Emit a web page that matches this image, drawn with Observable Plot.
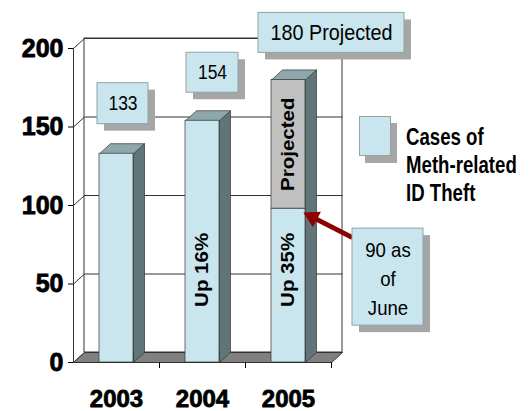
<!DOCTYPE html>
<html>
<head>
<meta charset="utf-8">
<script src="https://cdn.jsdelivr.net/npm/d3@7"></script>
<script src="https://cdn.jsdelivr.net/npm/@observablehq/plot@0.6"></script>
<style>
  html, body { margin: 0; padding: 0; background: #fff; }
  #wrap { position: relative; width: 532px; height: 411px; overflow: hidden; font-family: "Liberation Sans", Arial, Helvetica, sans-serif; }
  #legend { position: absolute; left: 359px; top: 116px; }
  #legend .sw { position: absolute; left: 0; top: 0; width: 32px; height: 40px; background: #C9E6EE; border: 1px solid #8FA3A8; box-sizing: border-box; box-shadow: 6px 7px 0 #A6A6A6; }
  #legend .lt { position: absolute; left: 47px; top: 7px; font-weight: bold; font-size: 23px; line-height: 28px; white-space: pre; color: #000; transform: scaleX(0.81); transform-origin: left top; }
</style>
</head>
<body>
<div id="wrap"></div>
<script>
// ---- data ----
const years = ["2003", "2004", "2005"];
const totals = [133, 154, 180];
const reported = [133, 154, 98];
const notes = ["", "Up 16%", "Up 35%"];
const callouts = ["133", "154", "180 Projected"];
const juneNote = "90 as\nof\nJune";
const projectedLabel = "Projected";
const yTicks = [0, 50, 100, 150, 200];
const legendLabel = "Cases of\nMeth-related\nID Theft";

// ---- layout ----
const W = 532, H = 411, mL = 73, mR = 201, mT = 48, mB = 49;
const kx = (W - mL - mR) / 3, ky = (H - mT - mB) / 200; // px per unit
const DX = 11 / kx, DY = 10 / ky;  // 3D depth
const halfW = 17 / kx;
const FONT = '"Liberation Sans", Arial, Helvetica, sans-serif';
const BLUE = "#C9E6EE", SIDE = "#607579", TOP = "#8EA7AB", GRAY = "#C0C0C0",
      FLOOR = "#808080", SHADOW = "#A6A6A6", EDGE = "#333", BOXEDGE = "#8FA3A8", RED = "#8B0000";

const bars = years.map((y, i) => ({i, c: i + 0.5, year: y, total: totals[i], rep: reported[i], note: notes[i], label: callouts[i]}));

const poly = (id, pts) => [...pts, pts[0]].map(([x, y]) => ({id, x, y}));
const sides = bars.flatMap(d => poly("s" + d.i, [[d.c + halfW, 0], [d.c + halfW + DX, DY], [d.c + halfW + DX, d.total + DY], [d.c + halfW, d.total]]));
const tops = bars.flatMap(d => poly("t" + d.i, [[d.c - halfW, d.total], [d.c + halfW, d.total], [d.c + halfW + DX, d.total + DY], [d.c - halfW + DX, d.total + DY]]));
const floor = poly("f", [[0, 0], [3, 0], [3 + DX, DY], [DX, DY]]);

const calloutLayout = [
  {ox: 6.5, oy: -50, w: 51, h: 41, fs: 21},
  {ox: 10, oy: -48, w: 52, h: 40, fs: 21},
  {ox: 43, oy: -47, w: 146, h: 40, fs: 22}
];
const juneLayout = {ox: 99.5, oy: 68.5, w: 71, h: 97, fs: 20};
const boxes = bars.map((d, i) => ({c: d.c, v: d.total, text: d.label, ...calloutLayout[i]}));
const june = {c: bars[2].c, v: bars[2].rep, text: juneNote, ...juneLayout};
const allBoxes = [...boxes, june];

const bx1 = b => b.c + (b.ox - b.w / 2) / kx, bx2 = b => b.c + (b.ox + b.w / 2) / kx;
const by1 = b => b.v - (b.oy + b.h / 2) / ky, by2 = b => b.v - (b.oy - b.h / 2) / ky;
const bcx = b => b.c + b.ox / kx, bcy = b => b.v - b.oy / ky;
const noteY = 59;

const proj = bars.filter(d => d.total > d.rep);
const arrowBar = [bars[2]];

const plot = Plot.plot({
  width: W, height: H,
  marginLeft: mL, marginRight: mR, marginTop: mT, marginBottom: mB,
  x: {domain: [0, 3]},
  y: {domain: [0, 200]},
  style: {fontFamily: FONT, background: "white", color: "#000", overflow: "visible"},
  marks: [
    // back wall
    Plot.rect([0], {x1: DX, x2: 3 + DX, y1: DY, y2: 200 + DY, fill: "white", stroke: EDGE, strokeWidth: 1}),
    Plot.link(yTicks, {x1: DX, x2: 3 + DX, y1: t => t + DY, y2: t => t + DY, stroke: EDGE, strokeWidth: 1}),
    Plot.link(yTicks, {x1: 0, y1: t => t, x2: DX, y2: t => t + DY, stroke: EDGE, strokeWidth: 1}),
    Plot.ruleX([0], {y1: 0, y2: 200, stroke: EDGE, strokeWidth: 1}),
    // floor
    Plot.line(floor, {x: "x", y: "y", z: "id", fill: FLOOR, stroke: EDGE, strokeWidth: 1}),
    // bars
    Plot.line(sides, {x: "x", y: "y", z: "id", fill: SIDE, stroke: EDGE, strokeWidth: 0.7}),
    Plot.line(tops, {x: "x", y: "y", z: "id", fill: TOP, stroke: EDGE, strokeWidth: 0.7}),
    Plot.rect(bars, {x1: d => d.c - halfW, x2: d => d.c + halfW, y1: 0, y2: "rep", fill: BLUE, stroke: EDGE, strokeWidth: 0.7}),
    Plot.rect(proj, {x1: d => d.c - halfW, x2: d => d.c + halfW, y1: "rep", y2: "total", fill: GRAY, stroke: EDGE, strokeWidth: 0.7}),
    // axes
    Plot.axisY(yTicks, {tickSize: 5, tickPadding: 5, fontSize: 25, fontWeight: "bold", label: null}),
    Plot.axisX([1, 2, 3], {tickSize: 6, tickFormat: () => "", label: null}),
    Plot.axisX([0.5, 1.5, 2.5], {tickSize: 0, tickPadding: 27, fontSize: 24, fontWeight: "bold", tickFormat: d => years[Math.round(d - 0.5)], label: null}),
    // bar notes
    Plot.text(bars.filter(d => d.note), {x: "c", y: noteY, text: "note", rotate: -90, fontSize: 20.5, fontWeight: "bold"}),
    Plot.text(proj, {x: "c", y: d => (d.rep + d.total) / 2, text: () => projectedLabel, rotate: -90, fontSize: 20.5, fontWeight: "bold"}),
    // arrow
    Plot.link(arrowBar, {x1: d => d.c + 64 / kx, y1: d => d.rep - 29 / ky, x2: d => d.c + 23.9 / kx, y2: d => d.rep - 8.5 / ky, stroke: RED, strokeWidth: 5}),
    Plot.dot(arrowBar, {x: d => d.c + 23.9 / kx, y: d => d.rep - 8.5 / ky, symbol: "triangle", r: 6.5, fill: RED, stroke: "none", rotate: -63}),
    // callout boxes
    Plot.rect(allBoxes, {x1: bx1, x2: bx2, y1: by1, y2: by2, dx: 7, dy: 7, fill: SHADOW}),
    Plot.rect(allBoxes, {x1: bx1, x2: bx2, y1: by1, y2: by2, fill: BLUE, stroke: BOXEDGE, strokeWidth: 1}),
    Plot.text(boxes.filter(b => b.fs === 21), {x: bcx, y: bcy, text: "text", fontSize: 21}),
    Plot.text(boxes.filter(b => b.fs === 22), {x: bcx, y: bcy, text: "text", fontSize: 22}),
    Plot.text([june], {x: bcx, y: bcy, text: "text", fontSize: 20, lineHeight: 1.45})
  ]
});

document.getElementById("wrap").appendChild(plot);

// make the tick labels heavier
d3.select(plot).selectAll('g[aria-label="y-axis tick label"], g[aria-label="x-axis tick label"]')
  .attr("stroke", "#000").attr("stroke-width", 0.8);

// condense text horizontally like the original
function squash(el, sx, sy) {
  const t = el.getAttribute("transform");
  if (t) el.setAttribute("transform", t + ` scale(${sx},${sy})`);
  else {
    const x = +el.getAttribute("x") || 0, y = +el.getAttribute("y") || 0;
    el.setAttribute("transform", `translate(${x * (1 - sx)},${y * (1 - sy)}) scale(${sx},${sy})`);
  }
}
const squashMap = new Map([
  ["133", [0.83, 1]], ["154", [0.83, 1]], ["180 Projected", [0.9, 1]],
  [juneNote.replace(/\n/g, ""), [0.93, 1]],
  ["Up 16%", [1, 0.87]], ["Up 35%", [1, 0.87]], [projectedLabel, [1, 0.87]]
]);
plot.querySelectorAll("text").forEach(el => {
  const s = squashMap.get(el.textContent);
  if (s) squash(el, s[0], s[1]);
});

// legend
const legend = document.createElement("div");
legend.id = "legend";
legend.innerHTML = '<div class="sw"></div><div class="lt"></div>';
legend.querySelector(".lt").textContent = legendLabel;
document.getElementById("wrap").appendChild(legend);
</script>
</body>
</html>
